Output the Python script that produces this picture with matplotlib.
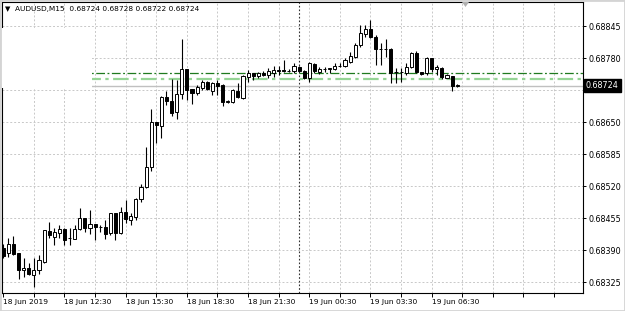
import matplotlib
matplotlib.use("Agg")
import matplotlib.pyplot as plt
import matplotlib.transforms as mtransforms
from matplotlib.patches import Rectangle, Polygon
import numpy as np

# ---- data (AUDUSD M15, 18 Jun 2019 09:30 .. 19 Jun 2019 07:45) ----
opens = [0.68394, 0.68384, 0.68402, 0.68384, 0.68349, 0.68353, 0.68339, 0.68349, 0.68366, 0.68429,
         0.68416, 0.68425, 0.68433, 0.68414, 0.68412, 0.68433, 0.68455, 0.68435, 0.68443, 0.68437,
         0.68437, 0.68424, 0.68465, 0.68424, 0.68467, 0.68451, 0.68457, 0.68494, 0.68518, 0.68559,
         0.68650, 0.68642, 0.68701, 0.68693, 0.68670, 0.68707, 0.68758, 0.68717, 0.68709, 0.68719,
         0.68731, 0.68713, 0.68729, 0.68725, 0.68691, 0.68691, 0.68713, 0.68699, 0.68741, 0.68750,
         0.68743, 0.68750, 0.68746, 0.68750, 0.68756, 0.68756, 0.68754, 0.68754, 0.68762, 0.68754,
         0.68739, 0.68768, 0.68752, 0.68758, 0.68758, 0.68758, 0.68764, 0.68764, 0.68772, 0.68782,
         0.68806, 0.68829, 0.68839, 0.68823, 0.68798, 0.68798, 0.68798, 0.68752, 0.68752, 0.68750,
         0.68762, 0.68790, 0.68752, 0.68750, 0.68780, 0.68758, 0.68760, 0.68739, 0.68743, 0.68724]
highs = [0.68402, 0.68414, 0.68418, 0.68384, 0.68374, 0.68364, 0.68374, 0.68380, 0.68431, 0.68447,
         0.68435, 0.68441, 0.68435, 0.68435, 0.68441, 0.68475, 0.68455, 0.68471, 0.68443, 0.68441,
         0.68451, 0.68465, 0.68465, 0.68477, 0.68492, 0.68465, 0.68496, 0.68524, 0.68599, 0.68676,
         0.68650, 0.68703, 0.68713, 0.68737, 0.68735, 0.68819, 0.68758, 0.68717, 0.68725, 0.68735,
         0.68733, 0.68731, 0.68735, 0.68727, 0.68695, 0.68717, 0.68729, 0.68745, 0.68756, 0.68750,
         0.68752, 0.68754, 0.68760, 0.68764, 0.68764, 0.68776, 0.68758, 0.68770, 0.68764, 0.68756,
         0.68772, 0.68770, 0.68762, 0.68762, 0.68760, 0.68770, 0.68770, 0.68780, 0.68792, 0.68810,
         0.68847, 0.68847, 0.68857, 0.68827, 0.68810, 0.68819, 0.68800, 0.68760, 0.68760, 0.68770,
         0.68792, 0.68794, 0.68752, 0.68782, 0.68780, 0.68766, 0.68762, 0.68748, 0.68743, 0.68728]
lows = [0.68374, 0.68376, 0.68380, 0.68331, 0.68335, 0.68339, 0.68315, 0.68341, 0.68364, 0.68414,
        0.68400, 0.68414, 0.68400, 0.68400, 0.68412, 0.68431, 0.68427, 0.68422, 0.68410, 0.68427,
        0.68412, 0.68420, 0.68410, 0.68422, 0.68445, 0.68441, 0.68451, 0.68488, 0.68516, 0.68551,
        0.68607, 0.68618, 0.68685, 0.68662, 0.68656, 0.68697, 0.68695, 0.68687, 0.68705, 0.68715,
        0.68715, 0.68705, 0.68705, 0.68683, 0.68689, 0.68689, 0.68699, 0.68697, 0.68731, 0.68735,
        0.68739, 0.68743, 0.68739, 0.68741, 0.68746, 0.68752, 0.68752, 0.68750, 0.68752, 0.68737,
        0.68731, 0.68750, 0.68748, 0.68752, 0.68750, 0.68756, 0.68762, 0.68762, 0.68770, 0.68780,
        0.68802, 0.68823, 0.68821, 0.68766, 0.68766, 0.68782, 0.68729, 0.68729, 0.68731, 0.68746,
        0.68760, 0.68750, 0.68746, 0.68746, 0.68752, 0.68746, 0.68737, 0.68739, 0.68713, 0.68722]
closes = [0.68378, 0.68402, 0.68382, 0.68349, 0.68353, 0.68341, 0.68349, 0.68370, 0.68431, 0.68420,
          0.68427, 0.68433, 0.68410, 0.68415, 0.68433, 0.68455, 0.68435, 0.68443, 0.68437, 0.68436,
          0.68422, 0.68465, 0.68424, 0.68467, 0.68453, 0.68459, 0.68494, 0.68518, 0.68559, 0.68650,
          0.68644, 0.68701, 0.68693, 0.68668, 0.68707, 0.68758, 0.68715, 0.68709, 0.68721, 0.68731,
          0.68717, 0.68729, 0.68723, 0.68691, 0.68693, 0.68715, 0.68701, 0.68743, 0.68750, 0.68743,
          0.68750, 0.68746, 0.68754, 0.68756, 0.68754, 0.68754, 0.68753, 0.68764, 0.68754, 0.68739,
          0.68770, 0.68754, 0.68758, 0.68758, 0.68759, 0.68764, 0.68764, 0.68776, 0.68784, 0.68806,
          0.68831, 0.68839, 0.68823, 0.68798, 0.68799, 0.68798, 0.68750, 0.68751, 0.68752, 0.68762,
          0.68790, 0.68752, 0.68748, 0.68780, 0.68758, 0.68762, 0.68741, 0.68746, 0.68723, 0.68724]

price_ticks = [0.68325, 0.68390, 0.68455, 0.68520, 0.68585, 0.68650, 0.68715, 0.68780, 0.68845]
time_label_idx = [0, 12, 24, 36, 48, 60, 72, 84]
time_labels = ["18 Jun 2019", "18 Jun 12:30", "18 Jun 15:30", "18 Jun 18:30",
               "18 Jun 21:30", "19 Jun 00:30", "19 Jun 03:30", "19 Jun 06:30"]
separator_idx = 58          # 19 Jun 00:00
level_dark = 0.68750
level_light = 0.68737
bid = 0.68724
title = "AUDUSD,M15  0.68724 0.68728 0.68722 0.68724"

# ---- figure ----
W, H = 625, 311
fig = plt.figure(figsize=(W / 100, H / 100), dpi=100)
fig.patch.set_facecolor("white")

L, R, T, B = 2, 583, 2, 293
ax = fig.add_axes([L / W, 1 - B / H, (R - L) / W, (B - T) / H])
ax.set_facecolor("white")

x0_px, dx_px = 3.3, 5.1
px_per_price = 32 / 0.00065
ax.set_xlim((L - x0_px) / dx_px, (R - x0_px) / dx_px)
ax.set_ylim(0.68325 - (B - 282) / px_per_price, 0.68325 + (282 - T) / px_per_price)

n = len(opens)
x = np.arange(n)
o = np.array(opens); h = np.array(highs); l = np.array(lows); c = np.array(closes)

# grid
for p in price_ticks:
    ax.axhline(p, color="#c8c8c8", lw=0.7, ls=(0, (2, 2)), zorder=0)
for gi in range(6, 114, 6):
    ax.axvline(gi, color="#c8c8c8", lw=0.7, ls=(0, (2, 2)), zorder=0)
ax.axvline(separator_idx, color="#303030", lw=0.8, ls=(0, (1.5, 1.8)), zorder=1)

# horizontal levels
ax.axhline(level_dark, color="#1f7a1f", lw=0.9, ls=(0, (7, 2, 1.5, 2)), zorder=2)
ax.axhline(level_light, color="#95d495", lw=1.6, ls=(0, (7, 2, 1.5, 2)), zorder=2)
ax.axhline(bid, color="#c0c0c0", lw=1.0, zorder=2)

# white box at upper left
ax.add_patch(Rectangle(((L - x0_px) / dx_px, 0.68325 + (282 - 88) / px_per_price),
                       (92 - L) / dx_px, 60 / px_per_price,
                       facecolor="white", edgecolor="none", zorder=3))

# candles
ax.vlines(x, l, h, color="black", lw=0.8, zorder=4)
bull = c >= o
body_b = np.minimum(o, c)
body_h = np.maximum(np.abs(c - o), 0.000004)
ax.bar(x, body_h, bottom=body_b, width=0.6,
       color=np.where(bull, "white", "black"), edgecolor="black", linewidth=0.7, zorder=5)

# axes styling
for s in ax.spines.values():
    s.set_color("black")
    s.set_linewidth(0.8)
ax.yaxis.tick_right()
ax.set_yticks(price_ticks)
# the 0.68715 label sits under the current-price box
ax.set_yticklabels(["" if abs(p - 0.68715) < 1e-7 else f"{p:.5f}" for p in price_ticks])
ax.tick_params(axis="y", direction="out", length=2.5, width=0.7, pad=1.5,
               labelsize=5.8, colors="black")
ax.set_xticks(list(range(0, 114, 6)))
ax.set_xticklabels([time_labels[time_label_idx.index(t)] if t in time_label_idx else ""
                    for t in range(0, 114, 6)])
ax.tick_params(axis="x", direction="out", length=3, width=0.7, pad=1.5,
               labelsize=5.4, colors="black")
for lab in ax.get_xticklabels():
    lab.set_horizontalalignment("left")

# current price box
trans = mtransforms.blended_transform_factory(ax.transAxes, ax.transData)
ax.text(1.0 + 3 / (R - L), bid, f"{bid:.5f}", transform=trans, va="center", ha="left",
        fontsize=5.8, color="white", zorder=10, clip_on=False,
        bbox=dict(boxstyle="square,pad=0.25", facecolor="black", edgecolor="black"))

# title
fig.text(5 / W, 1 - 9 / H, "\u25bc", fontsize=5, va="center", ha="left", color="black")
fig.text(15 / W, 1 - 9 / H, title, fontsize=5.3, va="center", ha="left", color="black")

# chart shift marker
fig.patches.append(Polygon([[462 / W, 1 - 2 / H], [469 / W, 1 - 2 / H], [465.5 / W, 1 - 7 / H]],
                           closed=True, transform=fig.transFigure, facecolor="#b0b0b0",
                           edgecolor="none", zorder=10))

# window frame
fig.patches.append(Rectangle((0, 0), 1, 1, transform=fig.transFigure, fill=False,
                             edgecolor="#d4d4d4", lw=2, zorder=10))

fig.savefig("out.png", dpi=100, facecolor="white")
